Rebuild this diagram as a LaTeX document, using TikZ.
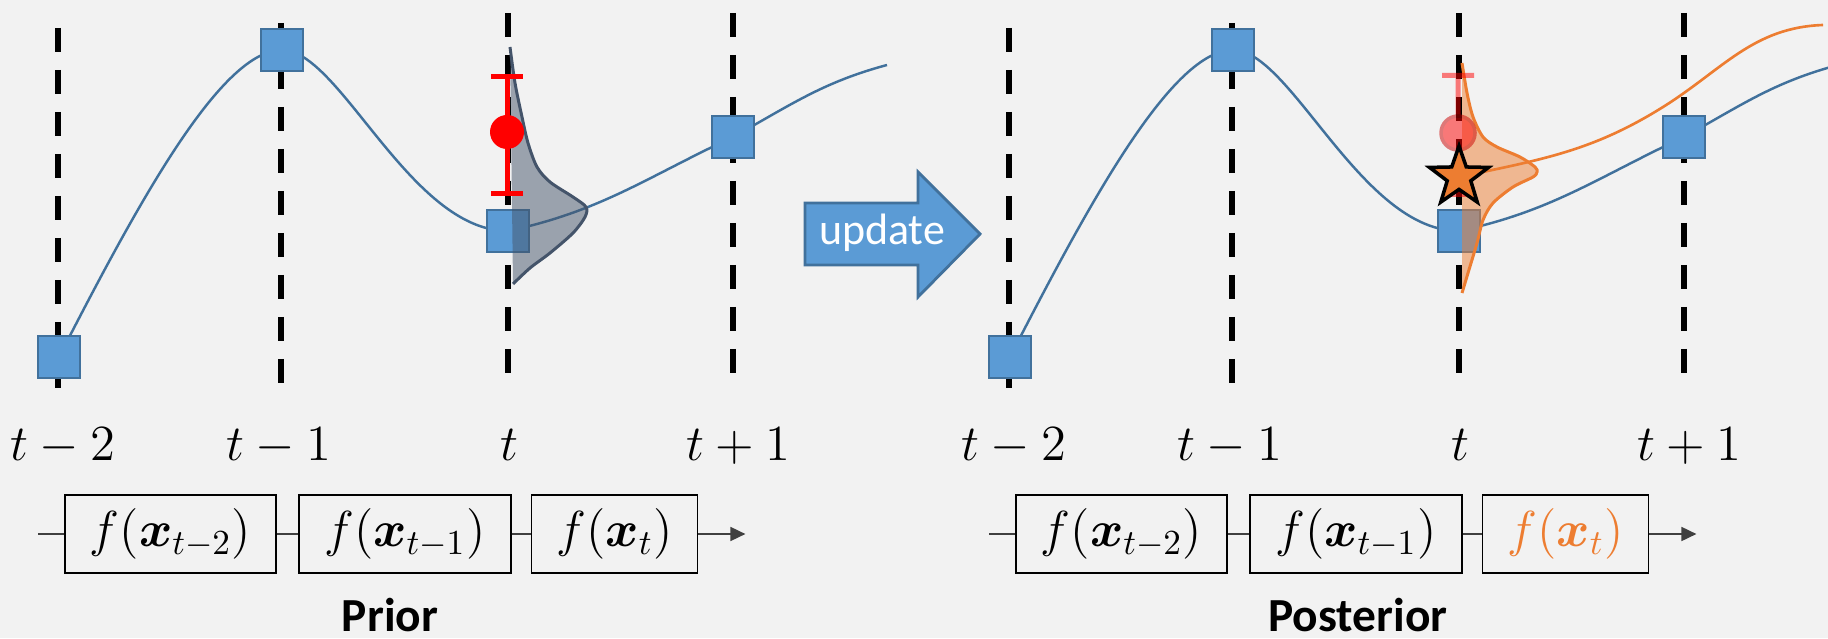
\documentclass[tikz,border=0pt]{standalone}
\usepackage{amsmath}
\usepackage{fontspec}
\newfontfamily\calibri{Carlito}
\usetikzlibrary{arrows.meta,positioning,shapes.geometric}
\definecolor{bgc}{HTML}{F2F2F2}
\definecolor{sqfill}{HTML}{5B9BD5}
\definecolor{sqedge}{HTML}{41719C}
\definecolor{slate}{HTML}{44546A}
\definecolor{orng}{HTML}{ED7D31}

\begin{document}
\begin{tikzpicture}[>={Triangle[length=0.15cm,width=0.14cm]},
    tline/.style={line width=0.06cm, dash pattern=on 0.24cm off 0.18cm},
    gp/.style={sqedge, line width=0.7pt},
    obs/.style={draw=sqedge, fill=sqfill, line width=0.8pt, minimum size=0.42cm, inner sep=0pt},
    fbox/.style={draw, line width=0.5pt, minimum height=0.78cm, inner sep=0pt, font=\fontsize{14}{16}\selectfont},
    tlab/.style={anchor=base, font=\fontsize{14}{16}\selectfont},
    link/.style={line width=0.5pt, black!75},
    ttl/.style={anchor=base, font=\calibri\bfseries\fontsize{13.5}{16}\selectfont}]

    % Hintergrund
    \fill[bgc] (0,0) rectangle (18.28,6.38);
    \useasboundingbox (0,0) rectangle (18.28,6.38);
    \clip (0,0) rectangle (18.28,6.38);

    % Dichten
    \def\priorpdf{plot[smooth] coordinates {(5.10,5.91) (5.15,5.55) (5.22,5.21) (5.28,4.95) (5.37,4.71) (5.50,4.56) (5.73,4.41) (5.86,4.31) (5.85,4.21) (5.73,4.05) (5.50,3.85) (5.30,3.70) (5.13,3.54)}}
    \def\postpdf{plot[smooth] coordinates {(14.62,5.75) (14.67,5.45) (14.73,5.21) (14.83,5.01) (14.97,4.91) (15.20,4.81) (15.35,4.71) (15.37,4.66) (15.33,4.61) (15.13,4.51) (14.93,4.35) (14.83,4.18) (14.77,3.95) (14.68,3.65) (14.62,3.45)}}

    % beide Bilder: Zeitachsen, GP-Kurve, Stuetzstellen, Ketten
    \foreach \dx/\pn/\fc in {0/L/black, 9.51/R/orng} {
    \begin{scope}[xshift=\dx cm]
        \foreach \x/\top/\lx/\lab [count=\i] in {0.58/6.10/0.63/t-2, 2.81/6.15/2.79/t-1, 5.08/6.25/5.09/t, 7.33/6.25/7.38/t+1} {
            \draw[tline] (\x,\top) -- ++(0,-3.6);
            \node[tlab] (lab\pn\i) at (\lx,1.78) {$\lab$};
        }
        \foreach \x/\y [count=\i] in {0.59/2.81, 2.82/5.88, 5.08/4.07, 7.33/5.01}
            \coordinate (k\pn\i) at (\x,\y);
        \coordinate (e\pn) at (8.87,5.73);
        \draw[gp] (k\pn1) .. controls (1.41,4.41) and (2.22,5.88) .. (k\pn2)
            .. controls (3.40,5.88) and (4.10,4.07) .. (k\pn3)
            to[out=12,in=205] (k\pn4) to[out=29,in=195] (e\pn);
        \foreach \i in {1,...,4}
            \node[obs] (sq\pn\i) at (k\pn\i) {};

        \node[fbox, minimum width=2.11cm] (b\pn1) at (1.705,1.04) {$f(\boldsymbol{x}_{t-2})$};
        \node[fbox, minimum width=2.12cm, right=0.21cm of b\pn1] (b\pn2) {$f(\boldsymbol{x}_{t-1})$};
        \node[fbox, minimum width=1.66cm, right=0.19cm of b\pn2, text=\fc] (b\pn3) {$f(\boldsymbol{x}_{t})$};
        \coordinate[left=0.26cm of b\pn1] (in\pn);
        \coordinate[right=0.47cm of b\pn3] (out\pn);
        \draw[link] (in\pn) -- (b\pn1);
        \draw[link] (b\pn1) -- (b\pn2);
        \draw[link] (b\pn2) -- (b\pn3);
        \draw[link,->] (b\pn3) -- (out\pn);
    \end{scope}
    }

    % Prior
    \fill[slate, fill opacity=0.5] \priorpdf -- cycle;
    \draw[slate, line width=0.85pt] \priorpdf;
    \draw[red, line width=0.05cm, {Bar[width=0.32cm]}-{Bar[width=0.32cm]}] (5.07,5.64) -- (5.07,4.42);
    \node[circle, fill=red, minimum size=0.34cm, inner sep=0pt] (muL) at (5.07,5.06) {};
    \node[ttl] (prior) at (3.90,0.07) {Prior};

    % update-Pfeil
    \draw[draw=sqedge, fill=sqfill, line width=0.8pt] (8.05,3.73) -- (9.18,3.73) -- (9.18,3.41) -- (9.80,4.04) -- (9.18,4.66) -- (9.18,4.35) -- (8.05,4.35) -- cycle;
    \node[text=white, font=\calibri\fontsize{12.5}{15}\selectfont] (upd) at (8.82,4.05) {update};

    % Posterior
    \fill[orng, fill opacity=0.5] \postpdf -- cycle;
    \draw[orng, line width=0.85pt] \postpdf;
    \begin{scope}[transparency group, opacity=0.5]
        \draw[red, line width=0.05cm, {Bar[width=0.32cm]}-{Bar[width=0.32cm]}] (14.58,5.65) -- (14.58,4.41);
        \node[circle, fill=red, draw=red!80!black, minimum size=0.34cm, inner sep=0pt] (muR) at (14.58,5.05) {};
    \end{scope}
    \coordinate (yobs) at (14.59,4.61);
    \coordinate (ymid) at (16.63,5.31);
    \coordinate (yend) at (18.23,6.13);
    \draw[orng, line width=0.75pt] (yobs) to[out=12,in=212] (ymid) to[out=32,in=182] (yend);
    \node[star, star points=5, star point ratio=2.5, minimum size=0.62cm, inner sep=0pt, fill=orng, draw=black, line width=1pt] (ystar) at (yobs) {};
    \node[ttl] (post) at (13.58,0.07) {Posterior};
\end{tikzpicture}
\end{document}
